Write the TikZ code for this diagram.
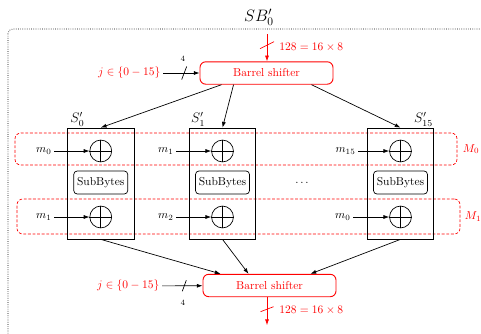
\documentclass[tikz,border=0pt]{standalone}
\usetikzlibrary{calc,arrows.meta}
\begin{document}
\begin{tikzpicture}[x=0.87pt,y=-0.87pt,
  bs/.style={draw=red, thick, rounded corners=5pt, text=red, minimum width=115.7pt, minimum height=19.5pt, inner sep=0pt},
  sbox/.style={draw, semithick, minimum width=58pt, minimum height=96.6pt, inner sep=0pt},
  xor/.style={draw, semithick, circle, minimum size=19pt, inner sep=0pt},
  subb/.style={draw, semithick, rounded corners=3pt, minimum width=47pt, minimum height=20pt, inner sep=1pt},
  mbox/.style={draw=red, semithick, dash pattern=on 2.5pt off 1.5pt, rounded corners=5pt, inner sep=0pt},
  arr/.style={-{Latex[length=5pt,width=3.5pt]}, semithick},
  rarr/.style={-{Latex[length=5pt,width=3.5pt]}, semithick, red},
  slash/.style={semithick},
  mlab/.style={anchor=east, inner sep=2pt},
  slab/.style={font=\large, inner sep=1pt},
]
\useasboundingbox (0,0) rectangle (481,333);
\clip (0,0) rectangle (481,333);

% outer dotted frame and title
\draw[line width=0.6pt, dash pattern=on 0.6pt off 1.3pt, rounded corners=4pt] (8,29) rectangle (520,360);
\node[font=\Large] (title) at (259,17) {$SB'_0$};

% M boxes
\node[mbox, minimum width=384.5pt, minimum height=27.8pt] (M0) at (236,149) {};
\node[mbox, minimum width=385.4pt, minimum height=30.5pt] (M1) at (238.5,216.5) {};
\node[anchor=west, text=red, inner sep=2pt] (M0l) at ($(M0.east)+(3,0)$) {$M_0$};
\node[anchor=west, text=red, inner sep=2pt] (M1l) at ($(M1.east)+(2,0)$) {$M_1$};

% barrel shifters
\node[bs] (BS1) at (266.5,73) {Barrel shifter};
\node[bs] (BS2) at (269.5,285.5) {Barrel shifter};

% S boxes
\node[sbox] (S0) at (100.75,183.5) {};
\node[sbox] (S1) at (222.5,183.5) {};
\node[sbox] (S15) at (400.5,183.5) {};
\node[slab, anchor=south west] (S0l) at ($(S0.north west)+(2,0)$) {$S'_0$};
\node[slab, anchor=south west] (S1l) at ($(S1.north west)+(1,0)$) {$S'_1$};
\node[slab, anchor=south east] (S15l) at (S15.north east) {$S'_{15}$};

% XORs
\node[xor] (X0a) at (100.75,151) {};
\node[xor] (X0b) at (100.75,217) {};
\node[xor] (X1a) at (222.5,151) {};
\node[xor] (X1b) at (222.5,217) {};
\node[xor] (X15a) at (400.5,151) {};
\node[xor] (X15b) at (400.5,217) {};
\foreach \n in {X0a,X0b,X1a,X1b,X15a,X15b}
  \draw[semithick] (\n.north) -- (\n.south) (\n.west) -- (\n.east);

% SubBytes
\node[subb] (SB0) at (100.75,182.5) {SubBytes};
\node[subb] (SB1) at (222.5,182.5) {SubBytes};
\node[subb] (SB15) at (400.5,182.5) {SubBytes};
\node (dots) at (302,182.5) {$\ldots$};

% m labels
\node[mlab] (m0a) at (54,151) {$m_0$};
\node[mlab] (m1a) at (176,151) {$m_1$};
\node[mlab] (m15a) at (358,151) {$m_{15}$};
\node[mlab] (m1b) at (54,217) {$m_1$};
\node[mlab] (m2b) at (176,217) {$m_2$};
\node[mlab] (m0b) at (353,217) {$m_0$};
\draw[arr] (m0a) -- (X0a);
\draw[arr] (m1a) -- (X1a);
\draw[arr] (m15a) -- (X15a);
\draw[arr] (m1b) -- (X0b);
\draw[arr] (m2b) -- (X1b);
\draw[arr] (m0b) -- (X15b);

% top barrel shifter to S boxes
\draw[arr] ($(BS1.south west)+(22,0)$) -- (S0.north);
\draw[arr] ($(BS1.south west)+(34,0)$) -- (S1.north);
\draw[arr] ($(BS1.south east)+(-22,0)$) -- (S15.north);

% S boxes to bottom barrel shifter
\draw[arr] (S0.south) -- ($(BS2.north west)+(18,0)$);
\draw[arr] (S1.south) -- ($(BS2.north west)+(46,0)$);
\draw[arr] (S15.south) -- ($(BS2.north east)+(-26,0)$);

% top inputs
\coordinate (tin) at ($(BS1.north)+(0.5,-27)$);
\draw[rarr] (tin) -- (tin |- BS1.north);
\draw[slash, red] ($(tin)!0.4!(tin |- BS1.north)+(-7,3.5)$) -- +(14,-7);
\node[anchor=west, text=red, inner sep=1pt] (w1) at (278,47) {$128=16\times8$};

\node[anchor=east, text=red, inner sep=2pt] (j1) at (163,73) {$j\in\{0-15\}$};
\draw[arr] (j1) -- (BS1);
\draw[slash] ($(j1.east)!0.58!(BS1.west)+(-2.5,6.5)$) -- +(5,-13);
\node[font=\scriptsize, inner sep=1pt] (n1) at (183,59) {4};

% bottom inputs / outputs
\coordinate (bout) at ($(BS2.south)+(-2.5,28)$);
\draw[rarr] (BS2.south -| bout) -- (bout);
\draw[slash, red] ($(BS2.south -| bout)!0.43!(bout)+(-6.5,2.5)$) -- +(13,-5);
\node[anchor=west, text=red, inner sep=1pt] (w2) at (278,310) {$128=16\times8$};

\node[anchor=east, text=red, inner sep=2pt] (j2) at (162,286) {$j\in\{0-15\}$};
\draw[arr] (j2) -- (BS2);
\draw[slash] ($(j2.east)!0.55!(BS2.west)+(-2,5.5)$) -- +(4,-11);
\node[font=\scriptsize, inner sep=1pt] (n2) at (183,303) {4};
\end{tikzpicture}
\end{document}
